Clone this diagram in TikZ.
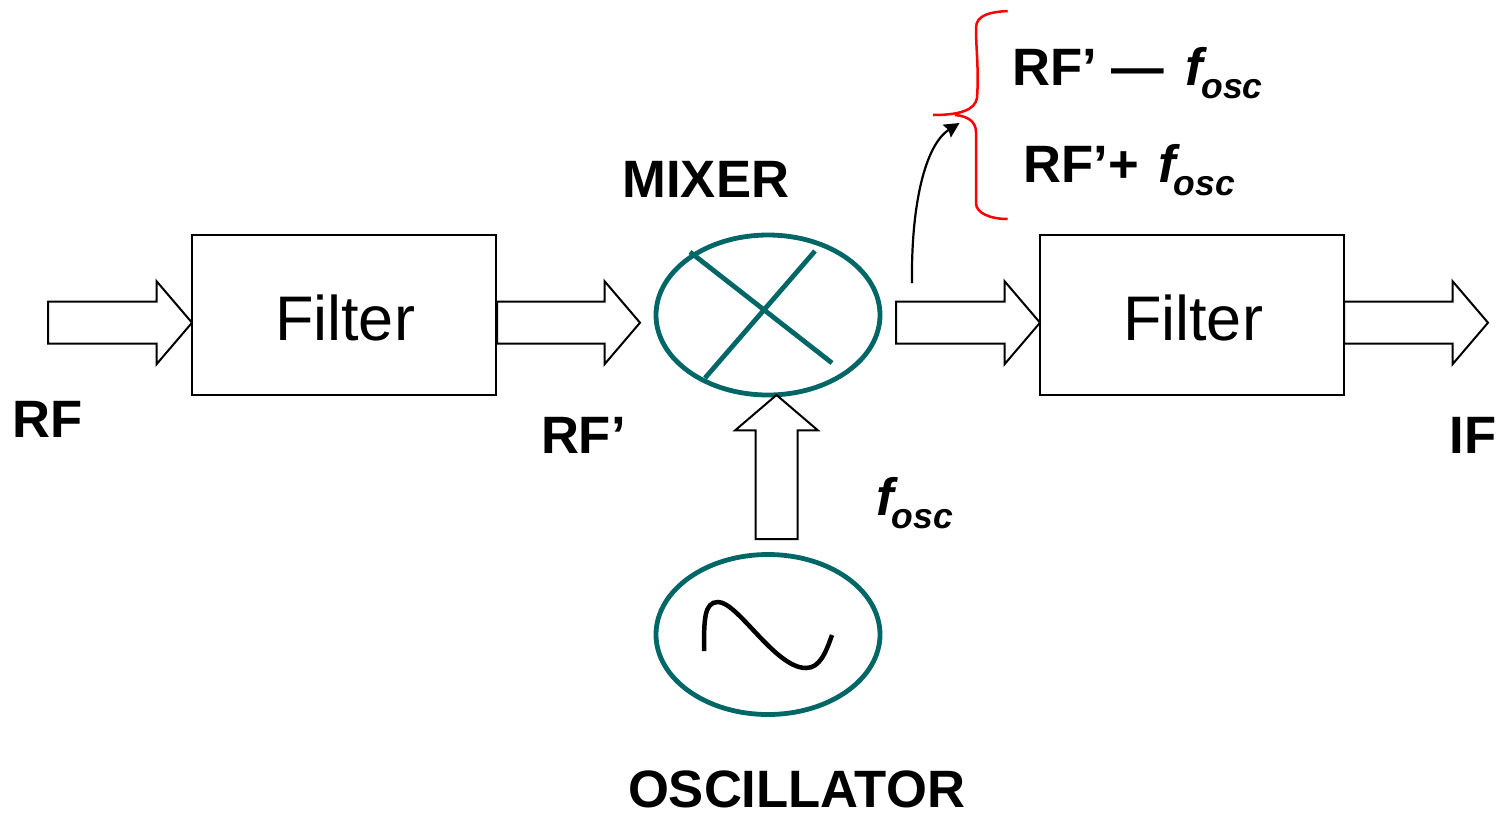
\documentclass[tikz,border=0pt]{standalone}
\usepackage{fontspec}
\setmainfont{Liberation Sans}
\usetikzlibrary{shapes.arrows,shapes.geometric,arrows.meta}
\definecolor{teal6}{HTML}{006666}
\definecolor{redb}{HTML}{FF0000}
\newcommand{\fosc}{\textit{f}\kern-6pt\raisebox{-13pt}{\fontsize{35.5}{40}\selectfont\textit{osc}}}
\tikzset{
  blockbox/.style={draw=black,line width=2.2pt,minimum width=304pt,minimum height=160pt,inner sep=0pt,outer sep=0pt},
  filtertext/.style={inner sep=0pt,font=\fontsize{63}{70}\selectfont},
  blockarrow/.style={draw=black,line width=2pt,fill=white,single arrow,single arrow tip angle=99,single arrow head extend=20.5pt,inner sep=20pt,outer sep=0pt,minimum height=#1,anchor=tail},
  tealring/.style={ellipse,draw=teal6,line width=4.8pt,minimum width=224pt,minimum height=160pt,inner sep=0pt,outer sep=0pt},
  tealbar/.style={draw=teal6,line width=4.8pt},
  lbl/.style={anchor=base west,inner sep=0pt,outer sep=0pt,font=\fontsize{52.6}{60}\selectfont\bfseries},
  bracecurve/.style={draw=redb,line width=2.5pt},
}
\begin{document}
\begin{tikzpicture}[x=1pt,y=-1pt]
\useasboundingbox (0,0) rectangle (1499,812);
% boxes
\node[blockbox] (filterA) at (344,315) {};
\node[blockbox] (filterB) at (1192,315) {};
\node[filtertext] (filterAt) at (345,318) {Filter};
\node[filtertext] (filterBt) at (1193,318) {Filter};
% block arrows
\node[blockarrow=144pt] (arrA) at (48,322.7) {};
\node[blockarrow=143pt] (arrB) at (497,322.7) {};
\node[blockarrow=144pt] (arrC) at (896,322.7) {};
\node[blockarrow=144pt] (arrD) at (1344,322.7) {};
% mixer
\node[tealring] (mixer) at (768,315) {};
\coordinate (xa) at (690,252);
\coordinate (xb) at (832,363);
\coordinate (xc) at (815,251);
\coordinate (xd) at (705,378);
\draw[tealbar] (xa) -- (xb);
\draw[tealbar] (xc) -- (xd);
% oscillator
\node[tealring] (osc) at (768,634.5) {};
\node[blockarrow=144pt,shape border rotate=90] (arrUp) at (776.5,539) {};
\draw[black,line width=4.5pt] (704,651) .. controls (704,620) and (704,602) .. (718,602)
  .. controls (738,602) and (775,668) .. (806,668)
  .. controls (820,668) and (826,652) .. (832,635);
% brace
\draw[bracecurve] (1007.7,11) .. controls (990,12) and (976,15) .. (976,28)
  .. controls (976,50) and (979,70) .. (977,98)
  .. controls (975,110) and (960,115) .. (933,115);
\draw[bracecurve] (955,115) .. controls (968,116) and (976,122) .. (976,132)
  -- (976,203) .. controls (976,213) and (990,219) .. (1007.7,219);
% curved arrow
\coordinate (curveS) at (912,283);
\coordinate (curveE) at (959.5,123);
\draw[black,line width=2.2pt,-{Stealth[length=15pt,width=15pt,inset=2pt]}] (curveS) .. controls (911,205) and (925,145) .. (curveE);
% labels
\node[lbl] (lRF) at (12.5,437) {RF};
\node[lbl] (lRFp) at (541,453) {RF’};
\node[lbl] (lIF) at (1449.5,453) {IF};
\node[lbl] (lMixer) at (622.5,197) {MIXER};
\node[lbl] (lOsc) at (628,807.5) {OSCILLATOR};
\node[lbl] (lFosc) at (876,515) {\fosc};
\node[lbl] (lMinus) at (1012.5,85) {RF’ —\hspace{6.5pt} \fosc};
\node[lbl] (lPlus) at (1023.5,182) {RF’+\hspace{4.5pt} \fosc};
\end{tikzpicture}
\end{document}
